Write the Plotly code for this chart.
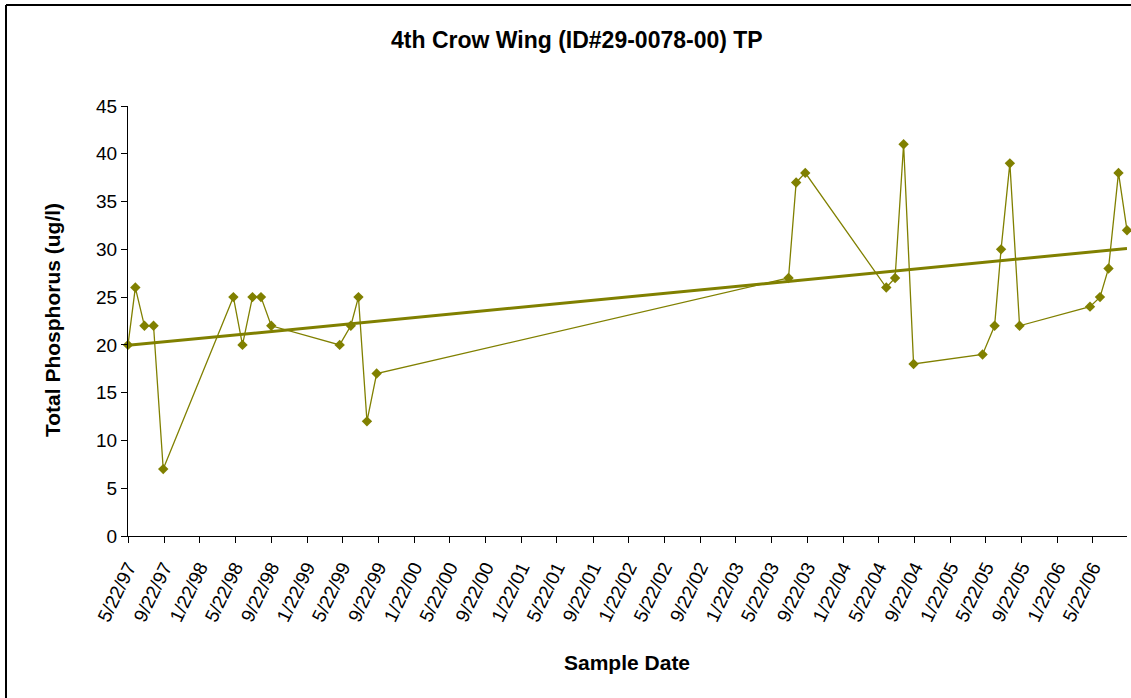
import numpy as np
import pandas as pd
import plotly.graph_objects as go

# ---- data ----
sample_dates = [
    "1997-05-22", "1997-06-16", "1997-07-17", "1997-08-17", "1997-09-19",
    "1998-05-16", "1998-06-16", "1998-07-20", "1998-08-18", "1998-09-22",
    "1999-05-13", "1999-06-20", "1999-07-16", "1999-08-14", "1999-09-16",
    "2003-07-20", "2003-08-15", "2003-09-15",
    "2004-06-17", "2004-07-17", "2004-08-15", "2004-09-18",
    "2005-05-11", "2005-06-21", "2005-07-13", "2005-08-12", "2005-09-14",
    "2006-05-12", "2006-06-15", "2006-07-14", "2006-08-17", "2006-09-15",
]
tp_values = [
    20, 26, 22, 22, 7,
    25, 20, 25, 25, 22,
    20, 22, 25, 12, 17,
    27, 37, 38,
    26, 27, 41, 18,
    19, 22, 30, 39, 22,
    24, 25, 28, 38, 32,
]
tick_dates = [
    "1997-05-22", "1997-09-22", "1998-01-22", "1998-05-22", "1998-09-22",
    "1999-01-22", "1999-05-22", "1999-09-22", "2000-01-22", "2000-05-22",
    "2000-09-22", "2001-01-22", "2001-05-22", "2001-09-22", "2002-01-22",
    "2002-05-22", "2002-09-22", "2003-01-22", "2003-05-22", "2003-09-22",
    "2004-01-22", "2004-05-22", "2004-09-22", "2005-01-22", "2005-05-22",
    "2005-09-22", "2006-01-22", "2006-05-22",
]
tick_labels = [
    "5/22/97", "9/22/97", "1/22/98", "5/22/98", "9/22/98",
    "1/22/99", "5/22/99", "9/22/99", "1/22/00", "5/22/00",
    "9/22/00", "1/22/01", "5/22/01", "9/22/01", "1/22/02",
    "5/22/02", "9/22/02", "1/22/03", "5/22/03", "9/22/03",
    "1/22/04", "5/22/04", "9/22/04", "1/22/05", "5/22/05",
    "9/22/05", "1/22/06", "5/22/06",
]
y_ticks = [0, 5, 10, 15, 20, 25, 30, 35, 40, 45]

title_text = "4th Crow Wing (ID#29-0078-00) TP"
x_title = "Sample Date"
y_title = "Total Phosphorus (ug/l)"

OLIVE = "#808000"
FONT = "Arial, 'Liberation Sans', sans-serif"

# ---- linear trendline (least squares, like Excel) ----
d = pd.to_datetime(sample_dates)
days = (d - d[0]).days.values.astype(float)
slope, intercept = np.polyfit(days, np.array(tp_values, dtype=float), 1)
trend_x = [d[0], d[-1]]
trend_y = [intercept, intercept + slope * days[-1]]

fig = go.Figure()
fig.add_trace(go.Scatter(
    x=sample_dates, y=tp_values, mode="lines+markers",
    line=dict(color=OLIVE, width=1.3),
    marker=dict(symbol="diamond", size=8, color=OLIVE),
    showlegend=False, cliponaxis=False,
))
fig.add_trace(go.Scatter(
    x=trend_x, y=trend_y, mode="lines",
    line=dict(color=OLIVE, width=3),
    showlegend=False, cliponaxis=False,
))

# plot area: x 128..1127, y 106..536
L, R, T, B = 128, 1127, 106, 536
W, H = 1131, 698
def px(xp):
    return (xp - L) / (R - L)
def py(yp):
    return (B - yp) / (B - T)

fig.update_layout(
    width=W, height=H,
    margin=dict(l=L, r=W - R, t=T, b=H - B, autoexpand=False),
    paper_bgcolor="white", plot_bgcolor="white",
    font=dict(family=FONT, size=19, color="black"),
    xaxis=dict(
        type="date", automargin=False,
        range=[sample_dates[0], sample_dates[-1]],
        tickmode="array", tickvals=tick_dates, ticktext=tick_labels,
        tickangle=-64, ticks="outside", ticklen=6, tickcolor="black",
        ticklabelstandoff=6,
        showline=True, linecolor="black", linewidth=1,
        showgrid=False, zeroline=False,
        tickfont=dict(size=19),
    ),
    yaxis=dict(
        automargin=False,
        range=[0, 45], tickmode="array", tickvals=y_ticks,
        ticks="outside", ticklen=6, tickcolor="black",
        showline=True, linecolor="black", linewidth=1,
        showgrid=False, zeroline=False,
        tickfont=dict(size=19),
    ),
    annotations=[
        dict(text="<b>" + title_text + "</b>", x=px(577), y=py(40),
             xref="paper", yref="paper", showarrow=False,
             xanchor="center", yanchor="middle", font=dict(size=23)),
        dict(text="<b>" + x_title + "</b>", x=px(627), y=py(662),
             xref="paper", yref="paper", showarrow=False,
             xanchor="center", yanchor="middle", font=dict(size=21)),
        dict(text="<b>" + y_title + "</b>", x=px(52), y=py(320),
             xref="paper", yref="paper", showarrow=False, textangle=-90,
             xanchor="center", yanchor="middle", font=dict(size=21)),
    ],
    shapes=[
        dict(type="line", xref="paper", yref="paper",
             x0=px(6), x1=px(1300), y0=py(5), y1=py(5),
             line=dict(color="black", width=2), layer="below"),
        dict(type="line", xref="paper", yref="paper",
             x0=px(6), x1=px(6), y0=py(5), y1=py(900),
             line=dict(color="black", width=2), layer="below"),
    ],
)

fig.write_html(
    "out.html",
    config={"displayModeBar": False},
    post_script="document.body.style.margin='0';document.body.style.overflow='hidden';",
)
